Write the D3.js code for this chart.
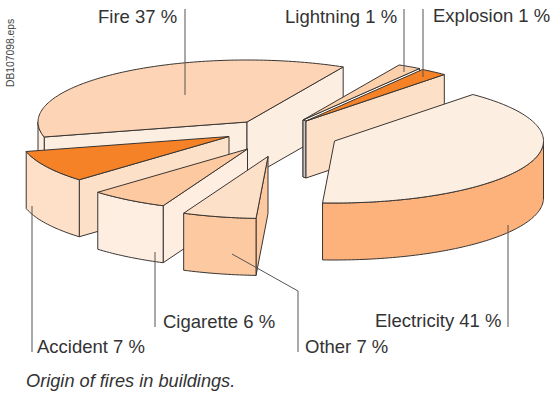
<!doctype html>
<html>
<head>
    <meta charset="utf-8">
    <style>
        html, body {
            margin: 0;
            background: #fff;
        }

        svg {
            display: block;
        }

        text {
            font-family: "Liberation Sans", Helvetica, Arial, sans-serif;
            fill: #333;
        }

        .label {
            font-size: 18.5px;
        }

        .caption {
            font-size: 18.2px;
            font-style: italic;
        }

        .code {
            font-size: 10.3px;
            fill: #444;
        }

        .edge {
            stroke: #3a3532;
            stroke-width: 1;
            stroke-linejoin: round;
        }

        .leader {
            stroke: #555;
            stroke-width: 1;
            fill: none;
        }
    </style>
    <script src="https://d3js.org/d3.v7.min.js"></script>
</head>
<body>
<script>
    const causes = ['Fire', 'Lightning', 'Explosion', 'Electricity', 'Other', 'Cigarette', 'Accident'];
    const percents = [37, 1, 1, 41, 7, 6, 7];
    // the artwork is not drawn to scale, so these are the shares of the circle as read from the picture
    const drawnShares = [36.5, 1.8, 2.1, 39.4, 5.7, 6.1, 8.4];

    const topColors = ['#fdd5b6', '#fdd0ac', '#f58226', '#fdeee2', '#fde0c8', '#fdc9a0', '#f58226'];
    const arcColors = ['#fdeee2', 'none', 'none', '#fdb17b', '#fdc9a0', '#feeee2', '#fee0c8'];
    const sideColors = ['#fdeee2', '#ffffff', '#fde0c8', 'none', '#fdc9a0', '#feeee2', '#fde0c8'];

    // how far each slice is pulled out of the pie, px
    const pullX = [0, 56, 59, 87.5, 21, 0.5, -18];
    const pullY = [0, -2, -1, 19, 34.5, 27, 14.5];
    const paintOrder = [0, 1, 2, 3, 6, 5, 4];

    const pieX = 247, pieY = 122, radiusX = 209, radiusY = 62, depth = 57;

    const svg = d3.select('body').append('svg')
        .attr('width', 550)
        .attr('height', 394);

    const pie = d3.pie()
        .sort(null)
        .value(d => d)
        .startAngle(-104 * Math.PI / 180)
        .endAngle(256 * Math.PI / 180);

    const slices = pie(drawnShares);
    const line = d3.line();

    // angle is the d3.pie one: 0 at 12 o'clock and clockwise
    function rim(i, angle, drop = 0) {
        return [
            pieX + pullX[i] + radiusX * Math.sin(angle),
            pieY + pullY[i] - radiusY * Math.cos(angle) + drop
        ];
    }

    function apex(i, drop = 0) {
        return [pieX + pullX[i], pieY + pullY[i] + drop];
    }

    function arcPoints(i, from, to, drop = 0) {
        const steps = Math.max(2, Math.ceil(Math.abs(to - from) / 0.02));
        return d3.range(steps + 1).map(s => rim(i, from + (to - from) * s / steps, drop));
    }

    function drawFace(group, points, fill) {
        group.append('path')
            .attr('class', 'edge')
            .attr('d', line(points) + 'Z')
            .attr('fill', fill);
    }

    function drawSlice(i) {
        const g = svg.append('g').attr('class', 'slice').attr('id', causes[i].toLowerCase());
        const a0 = slices[i].startAngle;
        const a1 = slices[i].endAngle;

        // cut faces, only those turned towards the viewer
        if (Math.sin(a0) < 0 && sideColors[i] !== 'none') {
            drawFace(g, [apex(i), rim(i, a0), rim(i, a0, depth), apex(i, depth)], sideColors[i]);
        }
        if (Math.sin(a1) > 0 && sideColors[i] !== 'none') {
            drawFace(g, [apex(i), rim(i, a1), rim(i, a1, depth), apex(i, depth)], sideColors[i]);
        }

        // outer wall on the front half of the ellipse, Fire starts before 0 so look one turn back too
        [0, -2 * Math.PI].forEach(turn => {
            const wallFrom = Math.max(a0, Math.PI / 2 + turn);
            const wallTo = Math.min(a1, 3 * Math.PI / 2 + turn);
            if (wallTo > wallFrom && arcColors[i] !== 'none') {
                const upper = arcPoints(i, wallFrom, wallTo);
                const lower = arcPoints(i, wallTo, wallFrom, depth);
                drawFace(g, upper.concat(lower), arcColors[i]);
            }
        });

        drawFace(g, [apex(i)].concat(arcPoints(i, a0, a1)), topColors[i]);
    }

    paintOrder.forEach(i => {
        drawSlice(i);
        if (causes[i] === 'Lightning') {
            // small grey cut face left between Lightning and Explosion
            drawFace(svg.select('#lightning'),
                [apex(1), apex(2), apex(2, depth), apex(1, depth)], '#c8c8c8');
        }
    });

    // leaders, drawn by hand on the original artwork
    const leaderPaths = {
        Fire: [[185, 9], [185, 95]],
        Lightning: [[404, 9], [404, 72]],
        Explosion: [[423, 9], [423, 77]],
        Electricity: [[508, 225], [508, 327]],
        Other: [[232, 254], [298, 291], [298, 352]],
        Cigarette: [[155, 252], [155, 327]],
        Accident: [[32, 206], [32, 352]]
    };

    const labelSpots = {
        Fire: [98, 23],
        Lightning: [285, 23],
        Explosion: [433, 22],
        Electricity: [375, 327],
        Other: [305, 353],
        Cigarette: [163, 328],
        Accident: [37, 353]
    };

    causes.forEach((cause, i) => {
        svg.append('path')
            .attr('class', 'leader')
            .attr('d', line(leaderPaths[cause]));

        svg.append('text')
            .attr('class', 'label')
            .attr('x', labelSpots[cause][0])
            .attr('y', labelSpots[cause][1])
            .text(`${cause} ${percents[i]} %`);
    });

    svg.append('text')
        .attr('class', 'caption')
        .attr('x', 26)
        .attr('y', 387)
        .text('Origin of fires in buildings.');

    svg.append('text')
        .attr('class', 'code')
        .attr('transform', 'translate(14,87) rotate(-90)')
        .text('DB107098.eps');
</script>
</body>
</html>
